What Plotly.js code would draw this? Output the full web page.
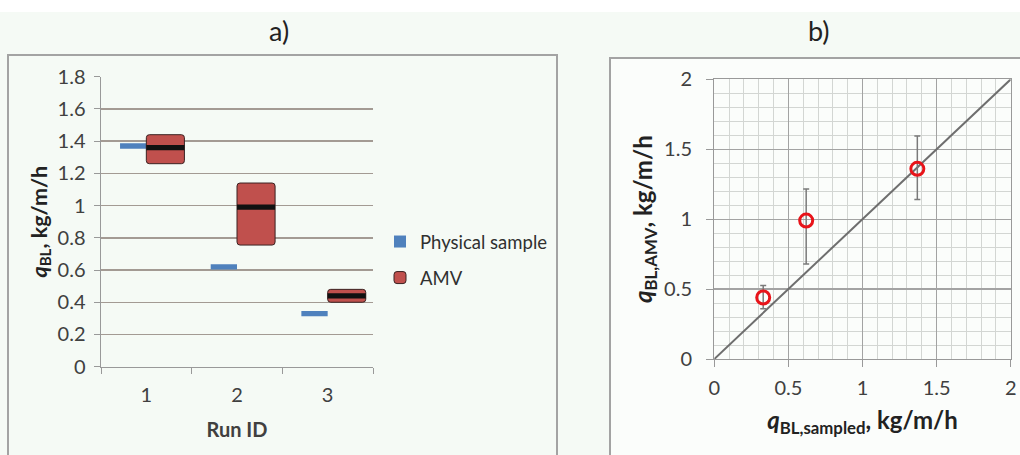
<!DOCTYPE html>
<html>
<head>
<meta charset="utf-8">
<script src="https://cdn.plot.ly/plotly-3.0.1.min.js"></script>
<style>html,body{margin:0;padding:0;background:#f5faf5;}#chart{width:1020px;height:455px;}</style>
</head>
<body>
<div id="chart"></div>
<script>
// ---------- data: panel a ----------
const runIds = [1, 2, 3];
const runLabels = ['1', '2', '3'];
const physicalSample = [1.37, 0.62, 0.33];
const amvLow = [1.26, 0.755, 0.40];
const amvHigh = [1.44, 1.14, 0.48];
const amvMean = [1.36, 0.99, 0.44];

// ---------- data: panel b ----------
const qSampled = [0.33, 0.62, 1.37];
const qAMV = [0.44, 0.99, 1.36];
const qAMVLow = [0.36, 0.68, 1.14];
const qAMVHigh = [0.525, 1.215, 1.595];
const oneToOne = [0, 2];

// ---------- helpers ----------
const W = 1020, H = 455;
const px = x => x / W;
const py = y => 1 - y / H;
const FONT = 'Lato, "Open Sans", sans-serif';
const lineThick = 0.033;

const traces = [
  {
    type: 'bar', name: 'Physical sample', legendgroup: 'g1',
    x: runIds, base: physicalSample.map(v => v - lineThick / 2),
    y: physicalSample.map(() => lineThick),
    width: 0.29, offset: -0.29,
    marker: {color: '#4f81bd', line: {width: 0}},
    xaxis: 'x', yaxis: 'y', hoverinfo: 'skip'
  },
  {
    type: 'bar', name: 'AMV', legendgroup: 'g2',
    x: runIds, base: amvLow,
    y: amvHigh.map((h, i) => h - amvLow[i]),
    width: 0.42, offset: 0,
    marker: {color: '#c0504d', cornerradius: 3, line: {color: '#3a2222', width: 1}},
    xaxis: 'x', yaxis: 'y', hoverinfo: 'skip'
  },
  {
    type: 'bar', name: 'AMV mean', showlegend: false,
    x: runIds, base: amvMean.map(v => v - lineThick / 2),
    y: amvMean.map(() => lineThick),
    width: 0.42, offset: 0,
    marker: {color: '#111111', line: {width: 0}},
    xaxis: 'x', yaxis: 'y', hoverinfo: 'skip'
  },
  {
    type: 'scatter', mode: 'lines', showlegend: false,
    x: oneToOne, y: oneToOne,
    line: {color: '#6e6e6e', width: 2},
    xaxis: 'x2', yaxis: 'y2', hoverinfo: 'skip'
  },
  {
    type: 'scatter', mode: 'markers', showlegend: false,
    x: qSampled, y: qAMV,
    marker: {symbol: 'circle-open', size: 13, color: '#e8141a', line: {width: 3, color: '#e8141a'}},
    error_y: {
      type: 'data', symmetric: false,
      array: qAMVHigh.map((h, i) => h - qAMV[i]),
      arrayminus: qAMV.map((v, i) => v - qAMVLow[i]),
      color: '#7a7a7a', thickness: 1.5, width: 3
    },
    xaxis: 'x2', yaxis: 'y2', hoverinfo: 'skip'
  }
];

const tickFont = {family: FONT, size: 20, color: '#404040'};

const layout = {
  width: W, height: H,
  margin: {l: 0, r: 0, t: 0, b: 0},
  paper_bgcolor: '#f5faf5',
  plot_bgcolor: 'rgba(0,0,0,0)',
  barmode: 'overlay',
  showlegend: true,
  legend: {
    x: px(380), y: py(223), xanchor: 'left', yanchor: 'top',
    bgcolor: 'rgba(0,0,0,0)', traceorder: 'grouped', tracegroupgap: 9,
    font: {family: FONT, size: 18.5, color: '#303030'}
  },
  xaxis: {
    domain: [px(101), px(373)], range: [0.5, 3.5],
    tickvals: runIds, ticktext: runLabels, ticks: '',
    ticklabelstandoff: 10,
    minor: {tick0: 0.5, dtick: 1, ticks: 'outside', ticklen: 6, tickcolor: '#999999', showgrid: false},
    showline: true, linecolor: '#999999', linewidth: 1.5,
    showgrid: false, zeroline: false, fixedrange: true,
    tickfont: tickFont,
    title: {text: '<b>Run ID</b>', font: {family: FONT, size: 20, color: '#404040'}, standoff: 18}
  },
  yaxis: {
    domain: [py(366.7), py(76.7)], range: [0, 1.8], dtick: 0.2, tick0: 0,
    ticks: 'outside', ticklen: 6, tickcolor: '#999999',
    ticklabelstandoff: 4,
    showline: true, linecolor: '#999999', linewidth: 1.5,
    showgrid: true, gridcolor: '#a39a93', gridwidth: 1.4, zeroline: false,
    tickfont: tickFont, fixedrange: true,
    title: {text: '<b><i>q</i><sub>BL</sub>, kg/m/h</b>', font: {family: FONT, size: 21.5, color: '#222222'}, standoff: 4}
  },
  xaxis2: {
    domain: [px(714.3), px(1010.7)], range: [0, 2], anchor: 'y2',
    dtick: 0.5, tick0: 0, ticks: 'outside', ticklen: 7, tickcolor: '#999999',
    ticklabelstandoff: 4,
    showline: true, mirror: true, linecolor: '#999999', linewidth: 1.3,
    showgrid: true, gridcolor: '#a3a3a3', gridwidth: 1.2, zeroline: false,
    minor: {dtick: 0.1, showgrid: true, gridcolor: '#d3d6d3', gridwidth: 1},
    tickfont: {family: FONT, size: 20, color: '#404040'}, fixedrange: true,
    title: {text: '<b><i>q</i><sub>BL,sampled</sub>, kg/m/h</b>', font: {family: FONT, size: 24, color: '#222222'}, standoff: 14}
  },
  yaxis2: {
    domain: [py(359), py(79.3)], range: [0, 2], anchor: 'x2',
    dtick: 0.5, tick0: 0, ticks: 'outside', ticklen: 7, tickcolor: '#999999',
    ticklabelstandoff: 10,
    showline: true, mirror: true, linecolor: '#999999', linewidth: 1.3,
    showgrid: true, gridcolor: '#a3a3a3', gridwidth: 1.2, zeroline: false,
    minor: {dtick: 0.1, showgrid: true, gridcolor: '#d3d6d3', gridwidth: 1},
    tickfont: {family: FONT, size: 20, color: '#404040'}, fixedrange: true,
    title: {text: '<b><i>q</i><sub>BL,AMV</sub>, kg/m/h</b>', font: {family: FONT, size: 24, color: '#222222'}, standoff: 4}
  },
  shapes: [
    {type: 'rect', xref: 'paper', yref: 'paper', x0: 0, x1: 1, y0: py(12), y1: 1,
     fillcolor: '#ffffff', line: {width: 0}, layer: 'below'},
    {type: 'rect', xref: 'paper', yref: 'paper', x0: px(8), x1: px(557), y0: py(470), y1: py(55),
     fillcolor: 'rgba(0,0,0,0)', line: {color: '#a3a3a3', width: 2}, layer: 'below'},
    {type: 'rect', xref: 'paper', yref: 'paper', x0: px(610), x1: px(1040), y0: py(470), y1: py(58),
     fillcolor: '#fbfdfb', line: {color: '#a3a3a3', width: 2}, layer: 'below'}
  ],
  annotations: [
    {text: 'a)', xref: 'paper', yref: 'paper', x: px(279), y: py(31), showarrow: false,
     xanchor: 'center', yanchor: 'middle', font: {family: FONT, size: 27, color: '#222222'}},
    {text: 'b)', xref: 'paper', yref: 'paper', x: px(819), y: py(31), showarrow: false,
     xanchor: 'center', yanchor: 'middle', font: {family: FONT, size: 27, color: '#222222'}}
  ]
};

Plotly.newPlot('chart', traces, layout, {displayModeBar: false, staticPlot: true});
</script>
</body>
</html>
